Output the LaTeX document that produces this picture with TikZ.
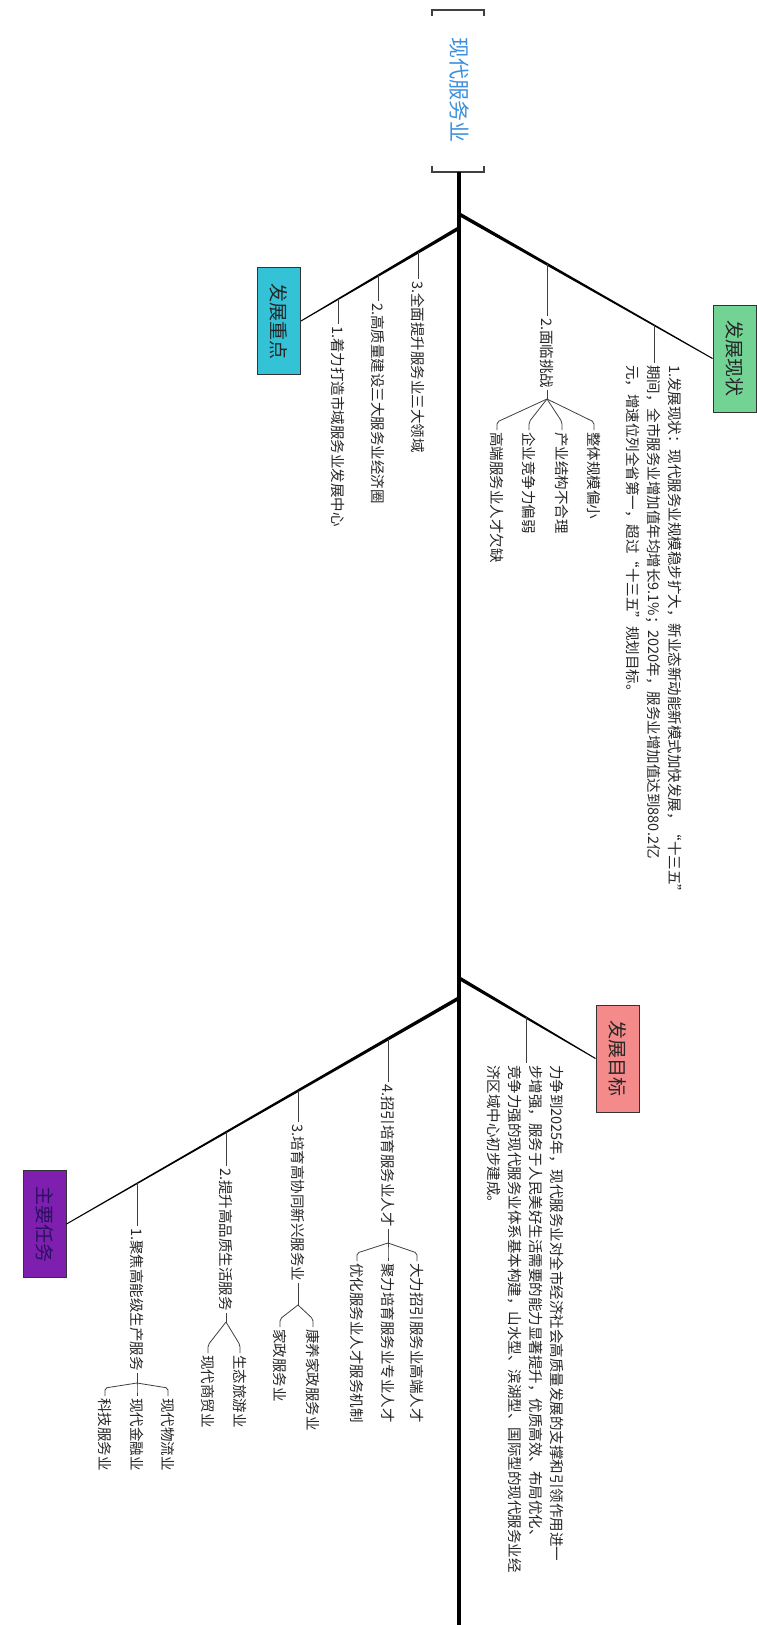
\documentclass[tikz,border=0pt]{standalone}
\usepackage{fontspec}
\setmainfont{Noto Sans CJK SC}
\usetikzlibrary{calc}
\definecolor{rootblue}{HTML}{3C8FDC}
\definecolor{gbox}{HTML}{72D394}
\definecolor{cbox}{HTML}{33C2D6}
\definecolor{pbox}{HTML}{F48A8A}
\definecolor{vbox}{HTML}{7E1FB0}
\definecolor{vtext}{HTML}{2A1060}
\definecolor{txtc}{HTML}{262626}
\newcommand\mmtaper[2]{\fill[black] ($(#1)!1.8pt!90:(#2)$) -- ($(#2)!0.5pt!-90:(#1)$) -- ($(#2)!0.5pt!90:(#1)$) -- ($(#1)!1.8pt!-90:(#2)$) -- cycle;}
\newcommand\mmfork[2]{\draw[conn,rounded corners=2pt] (#1) -- ($(#2.west)+(0,-8)$) -- (#2.west);}
\begin{document}
\begin{tikzpicture}[x=1pt,y=-1pt,
  txt/.style={rotate=-90,anchor=west,inner sep=2pt,font=\fontsize{14.5}{21}\selectfont,text=txtc,align=left},
  topic/.style={rotate=-90,draw=black!80,line width=1pt,minimum width=107pt,minimum height=43pt,inner sep=0pt,font=\fontsize{19}{22}\selectfont,text=black!85},
  conn/.style={draw=black!75,line width=0.8pt},
  trunkline/.style={line width=4pt,black},
  bracket/.style={line width=1.5pt,black!75}]
\useasboundingbox (0,0) rectangle (757,1625);
\fill[white] (0,0) rectangle (757,1625);

% root
\node[rotate=-90,font=\fontsize{21}{24}\selectfont,text=rootblue,inner sep=0pt] (root) at (459,90) {现代服务业};
\draw[bracket] (432,16) -- (432,10) -- (484,10) -- (484,16);
\draw[bracket] (432,166) -- (432,172) -- (484,172) -- (484,166);
\coordinate (rootb) at (459,172);
\coordinate (tend) at (459,1625);
\draw[trunkline] (rootb) -- (tend);

% topics
\node[topic,fill=gbox] (s1) at (734.5,358.5) {发展现状};
\node[topic,fill=cbox] (s2) at (279,321) {发展重点};
\node[topic,fill=pbox] (s3) at (617.5,1058.5) {发展目标};
\node[topic,fill=vbox,text=vtext] (s4) at (44.5,1224) {主要任务};

\coordinate (j1) at (459,214);
\coordinate (j2) at (459,228);
\coordinate (j3) at (459,978);
\coordinate (j4) at (459,998);
\mmtaper{j1}{s1.south}
\mmtaper{j2}{s2.north}
\mmtaper{j3}{s3.south}
\mmtaper{j4}{s4.north}

% ---- 发展现状
\coordinate (c11) at (654,325);
\coordinate (c12) at (547,264);
\node[txt] (t11) at (654,363) {1.发展现状：现代服务业规模稳步扩大，新业态新动能新模式加快发展，“十三五”\\期间，全市服务业增加值年均增长9.1\%；2020年，服务业增加值达到880.2亿\\元，增速位列全省第一，超过“十三五”规划目标。};
\draw[conn] (c11) -- (t11.west);
\node[txt] (t12) at (547,316) {2.面临挑战};
\draw[conn] (c12) -- (t12.west);
\coordinate (f12) at (547,399);
\draw[conn] (t12.east) -- (f12);
\node[txt] (t121) at (594,430) {整体规模偏小};
\node[txt] (t122) at (562,430) {产业结构不合理};
\node[txt] (t123) at (529,430) {企业竞争力偏弱};
\node[txt] (t124) at (497,430) {高端服务业人才欠缺};
\mmfork{f12}{t121}
\mmfork{f12}{t122}
\mmfork{f12}{t123}
\mmfork{f12}{t124}

% ---- 发展重点
\coordinate (c23) at (418,252);
\coordinate (c22) at (378,275);
\coordinate (c21) at (338,299);
\node[txt] (t23) at (418,279) {3.全面提升服务业三大领域};
\node[txt] (t22) at (378,301) {2.高质量建设三大服务业经济圈};
\node[txt] (t21) at (338,324) {1.着力打造市域服务业发展中心};
\draw[conn] (c23) -- (t23.west);
\draw[conn] (c22) -- (t22.west);
\draw[conn] (c21) -- (t21.west);

% ---- 发展目标
\coordinate (c31) at (526,1017);
\node[txt] (t31) at (526,1063) {力争到2025年，现代服务业对全市经济社会高质量发展的支撑和引领作用进一\\步增强，服务于人民美好生活需要的能力显著提升，优质高效、布局优化、\\竞争力强的现代服务业体系基本构建，山水型、滨湖型、国际型的现代服务业经\\济区域中心初步建成。};
\draw[conn] (c31) -- (t31.west);

% ---- 主要任务
\coordinate (c44) at (388,1039);
\coordinate (c43) at (298,1091);
\coordinate (c42) at (226,1132);
\coordinate (c41) at (137,1183);
\node[txt] (t44) at (388,1082) {4.招引培育服务业人才};
\node[txt] (t43) at (298,1122) {3.培育高协同新兴服务业};
\node[txt] (t42) at (226,1166) {2.提升高品质生活服务};
\node[txt] (t41) at (137,1226) {1.聚焦高能级生产服务};
\draw[conn] (c44) -- (t44.west);
\draw[conn] (c43) -- (t43.west);
\draw[conn] (c42) -- (t42.west);
\draw[conn] (c41) -- (t41.west);

\coordinate (f44) at (388,1243);
\draw[conn] (t44.east) -- (f44);
\node[txt] (t441) at (417,1261) {大力招引服务业高端人才};
\node[txt] (t442) at (388,1261) {聚力培育服务业专业人才};
\node[txt] (t443) at (357,1261) {优化服务业人才服务机制};
\mmfork{f44}{t441}
\mmfork{f44}{t442}
\mmfork{f44}{t443}

\coordinate (f43) at (298,1305);
\draw[conn] (t43.east) -- (f43);
\node[txt] (t431) at (313,1327) {康养家政服务业};
\node[txt] (t432) at (280,1327) {家政服务业};
\mmfork{f43}{t431}
\mmfork{f43}{t432}

\coordinate (f42) at (226,1322);
\draw[conn] (t42.east) -- (f42);
\node[txt] (t421) at (240,1353) {生态旅游业};
\node[txt] (t422) at (208,1353) {现代商贸业};
\mmfork{f42}{t421}
\mmfork{f42}{t422}

\coordinate (f41) at (137,1383);
\draw[conn] (t41.east) -- (f41);
\node[txt] (t411) at (168,1396) {现代物流业};
\node[txt] (t412) at (137,1396) {现代金融业};
\node[txt] (t413) at (105,1396) {科技服务业};
\mmfork{f41}{t411}
\mmfork{f41}{t412}
\mmfork{f41}{t413}
\end{tikzpicture}
\end{document}
